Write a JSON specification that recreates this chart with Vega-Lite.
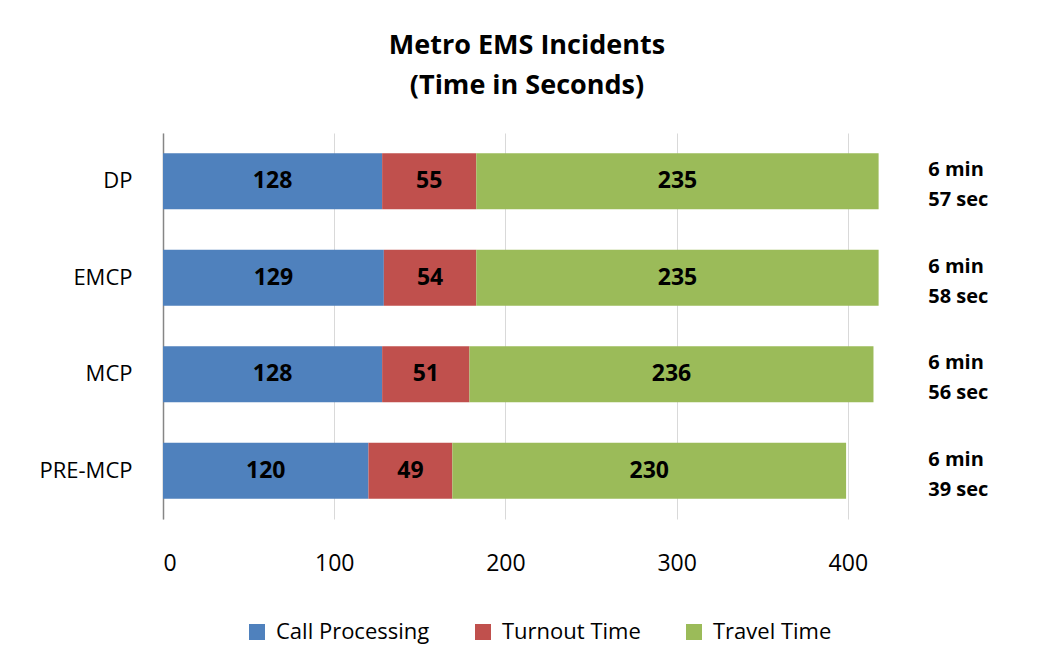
{
  "$schema": "https://vega.github.io/schema/vega-lite/v6.json",
  "autosize": "none",
  "width": 856,
  "height": 386,
  "padding": {"left": 163, "top": 133, "right": 44, "bottom": 150},
  "background": "white",
  "config": {"view": {"stroke": null}},
  "title": {
    "text": ["Metro EMS Incidents", "(Time in Seconds)"],
    "font": "Open Sans",
    "fontSize": 27,
    "fontWeight": "bold",
    "color": "#000000",
    "anchor": "middle",
    "dx": -64,
    "offset": 33,
    "lineHeight": 40
  },
  "datasets": {
    "segments": [
      {"unit": "DP", "series": "Call Processing", "seq": 1, "seconds": 128},
      {"unit": "DP", "series": "Turnout Time", "seq": 2, "seconds": 55},
      {"unit": "DP", "series": "Travel Time", "seq": 3, "seconds": 235},
      {"unit": "EMCP", "series": "Call Processing", "seq": 1, "seconds": 129},
      {"unit": "EMCP", "series": "Turnout Time", "seq": 2, "seconds": 54},
      {"unit": "EMCP", "series": "Travel Time", "seq": 3, "seconds": 235},
      {"unit": "MCP", "series": "Call Processing", "seq": 1, "seconds": 128},
      {"unit": "MCP", "series": "Turnout Time", "seq": 2, "seconds": 51},
      {"unit": "MCP", "series": "Travel Time", "seq": 3, "seconds": 236},
      {"unit": "PRE-MCP", "series": "Call Processing", "seq": 1, "seconds": 120},
      {"unit": "PRE-MCP", "series": "Turnout Time", "seq": 2, "seconds": 49},
      {"unit": "PRE-MCP", "series": "Travel Time", "seq": 3, "seconds": 230}
    ],
    "totals": [
      {"unit": "DP", "line1": "6 min", "line2": "57 sec"},
      {"unit": "EMCP", "line1": "6 min", "line2": "58 sec"},
      {"unit": "MCP", "line1": "6 min", "line2": "56 sec"},
      {"unit": "PRE-MCP", "line1": "6 min", "line2": "39 sec"}
    ]
  },
  "encoding": {
    "y": {
      "field": "unit",
      "type": "nominal",
      "sort": ["DP", "EMCP", "MCP", "PRE-MCP"],
      "scale": {"paddingInner": 0.42, "paddingOuter": 0.21},
      "axis": {
        "title": null,
        "domain": true,
        "domainColor": "#868686",
        "domainWidth": 1.5,
        "ticks": false,
        "grid": false,
        "labelFont": "Open Sans",
        "labelFontSize": 22,
        "labelColor": "#000000",
        "labelPadding": 31
      }
    }
  },
  "layer": [
    {
      "data": {"name": "segments"},
      "mark": {"type": "bar"},
      "encoding": {
        "x": {
          "field": "seconds",
          "type": "quantitative",
          "stack": "zero",
          "scale": {"domain": [0, 500], "nice": false},
          "axis": {
            "title": null,
            "values": [0, 100, 200, 300, 400],
            "domain": false,
            "ticks": false,
            "grid": true,
            "gridColor": "#d9d9d9",
            "gridWidth": 1,
            "labelFont": "Open Sans",
            "labelFontSize": 23,
            "labelColor": "#000000",
            "labelPadding": 33
          }
        },
        "color": {
          "field": "series",
          "type": "nominal",
          "scale": {
            "domain": ["Call Processing", "Turnout Time", "Travel Time"],
            "range": ["#4F81BD", "#C0504D", "#9BBB59"]
          },
          "legend": {
            "title": null,
            "orient": "none",
            "direction": "horizontal",
            "legendX": 83,
            "legendY": 488,
            "symbolType": "square",
            "symbolSize": 256,
            "symbolStrokeWidth": 0,
            "labelFont": "Open Sans",
            "labelFontSize": 22,
            "labelColor": "#000000",
            "labelLimit": 300,
            "columnPadding": 42,
            "labelOffset": 8
          }
        },
        "order": {"field": "seq", "type": "quantitative"}
      }
    },
    {
      "data": {"name": "segments"},
      "mark": {"type": "text", "font": "Open Sans", "fontSize": 23, "fontWeight": "bold", "color": "#000000", "baseline": "middle"},
      "encoding": {
        "x": {"field": "seconds", "type": "quantitative", "stack": "zero", "bandPosition": 0.5},
        "text": {"field": "seconds", "type": "quantitative"},
        "detail": {"field": "series"},
        "order": {"field": "seq", "type": "quantitative"}
      }
    },
    {
      "data": {"name": "totals"},
      "mark": {"type": "text", "font": "Open Sans", "fontSize": 20, "fontWeight": "bold", "color": "#000000", "align": "left", "baseline": "middle", "dy": -11},
      "encoding": {
        "x": {"datum": 447},
        "text": {"field": "line1"}
      }
    },
    {
      "data": {"name": "totals"},
      "mark": {"type": "text", "font": "Open Sans", "fontSize": 20, "fontWeight": "bold", "color": "#000000", "align": "left", "baseline": "middle", "dy": 19},
      "encoding": {
        "x": {"datum": 447},
        "text": {"field": "line2"}
      }
    }
  ]
}
